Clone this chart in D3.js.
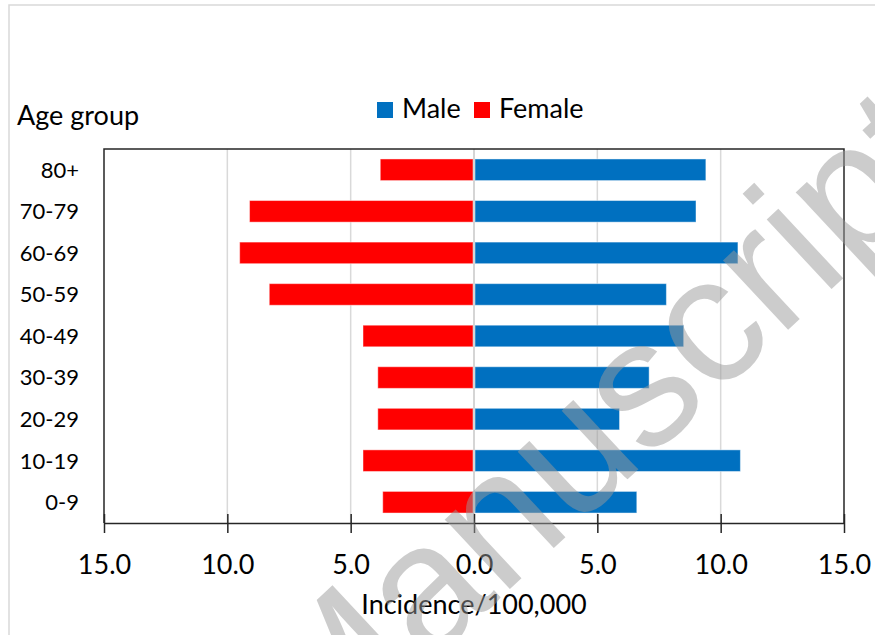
<!DOCTYPE html>
<html>
<head>
<meta charset="utf-8">
<script src="https://cdn.jsdelivr.net/npm/d3@7"></script>
<style>
  html, body { margin: 0; padding: 0; background: #fff; }
  #chart { width: 875px; height: 635px; }
  text { font-family: Lato, "Open Sans", sans-serif; }
</style>
</head>
<body>
<div id="chart"></div>
<script>
// age groups, top to bottom as in the figure
const ageGroups = ['80+', '70-79', '60-69', '50-59', '40-49', '30-39', '20-29', '10-19', '0-9'];
// incidence per 100,000
const maleValues = [9.4, 9.0, 10.7, 7.8, 8.5, 7.1, 5.9, 10.8, 6.6];
const femaleValues = [3.8, 9.1, 9.5, 8.3, 4.5, 3.9, 3.9, 4.5, 3.7];
const xTicks = [-15, -10, -5, 0, 5, 10, 15];
const seriesNames = ['Male', 'Female'];

(() => {
  const W = 875, H = 635;
  const colors = { Male: '#0070C0', Female: '#FF0000' };

  const svg = d3.select('#chart').append('svg')
      .attr('width', W).attr('height', H);

  // outer chart-area frame (only top/left visible in the crop)
  svg.append('path')
      .attr('d', `M9,${H} L9,5 L${W},5`)
      .attr('fill', 'none').attr('stroke', '#d9d9d9').attr('stroke-width', 1.5);

  const plot = { left: 104, right: 844, top: 149, bottom: 523 };

  const x = d3.scaleLinear().domain([-15, 15]).range([plot.left, plot.right]);
  const y = d3.scaleBand().domain(ageGroups)
      .range([plot.top, plot.bottom])
      .paddingInner(0.48).paddingOuter(0.24);

  // vertical gridlines
  svg.append('g').selectAll('line')
      .data(xTicks.filter(t => Math.abs(t) < 15)).enter()
      .append('line')
      .attr('x1', d => x(d)).attr('x2', d => x(d))
      .attr('y1', plot.top).attr('y2', plot.bottom)
      .attr('stroke', '#d9d9d9').attr('stroke-width', 1.5);

  const rows = ageGroups.map((g, i) => ({ group: g, Male: maleValues[i], Female: femaleValues[i] }));

  // female bars go to the left, male to the right
  seriesNames.forEach(s => {
    svg.append('g').selectAll('rect')
        .data(rows).enter()
        .append('rect')
        .attr('x', d => s === 'Male' ? x(0) + 1 : x(-d[s]))
        .attr('width', d => s === 'Male' ? x(d[s]) - x(0) - 1 : x(0) - x(-d[s]) - 1)
        .attr('y', d => y(d.group))
        .attr('height', y.bandwidth())
        .attr('fill', colors[s])
        .attr('stroke', 'rgba(255,255,255,0.45)').attr('stroke-width', 1);
  });

  // zero line sits between the two bar sets
  svg.append('line')
      .attr('x1', x(0)).attr('x2', x(0))
      .attr('y1', plot.top).attr('y2', plot.bottom)
      .attr('stroke', '#d0d0d0').attr('stroke-width', 1.5);

  // frame of the plot area: left, top, right
  svg.append('path')
      .attr('d', `M${plot.left},${plot.bottom} L${plot.left},${plot.top} L${plot.right},${plot.top} L${plot.right},${plot.bottom}`)
      .attr('fill', 'none').attr('stroke', '#262626').attr('stroke-width', 1.5);

  // x axis with crossing ticks
  const xAxis = svg.append('g')
      .attr('transform', `translate(0,${plot.bottom})`)
      .call(d3.axisBottom(x).tickValues(xTicks).tickSizeInner(10).tickSizeOuter(0)
          .tickFormat(d => Math.abs(d).toFixed(1)));
  xAxis.select('.domain').attr('stroke', '#262626').attr('stroke-width', 1.5);
  xAxis.selectAll('.tick line')
      .attr('y1', -9).attr('y2', 10)
      .attr('stroke', '#262626').attr('stroke-width', 1.5);
  xAxis.selectAll('.tick text')
      .attr('y', 51).attr('dy', 0)
      .style('font-family', 'Lato, sans-serif').style('font-size', '27px').style('fill', '#000');

  // y category labels
  svg.append('g').selectAll('text')
      .data(ageGroups).enter()
      .append('text')
      .attr('x', 79)
      .attr('y', d => y(d) + y.bandwidth() / 2)
      .attr('dy', '0.36em')
      .attr('text-anchor', 'end')
      .style('font-size', '22px').style('fill', '#000')
      .text(d => d);

  svg.append('text')
      .attr('x', 17).attr('y', 125)
      .style('font-size', '27px').style('fill', '#000')
      .text('Age group');

  svg.append('text')
      .attr('x', x(0)).attr('y', 614)
      .attr('text-anchor', 'middle')
      .style('font-size', '27px').style('fill', '#000')
      .text('Incidence/100,000');

  // legend
  const legendPos = [{ name: 'Male', x: 377 }, { name: 'Female', x: 474 }];
  const legend = svg.append('g').selectAll('g')
      .data(legendPos).enter().append('g');
  legend.append('rect')
      .attr('x', d => d.x).attr('y', 102)
      .attr('width', 16).attr('height', 16)
      .attr('fill', d => colors[d.name]);
  legend.append('text')
      .attr('x', d => d.x + 25).attr('y', 118)
      .style('font-size', '27px').style('fill', '#000')
      .text(d => d.name);

  // diagonal manuscript watermark on top of everything
  svg.append('text')
      .attr('transform', 'translate(318,768) rotate(-43)')
      .style('font-family', '"Liberation Sans", Arial, sans-serif')
      .style('font-size', '180px')
      .style('fill', '#9a9a9a')
      .style('fill-opacity', 0.5)
      .text('Manuscript');
})();
</script>
</body>
</html>
